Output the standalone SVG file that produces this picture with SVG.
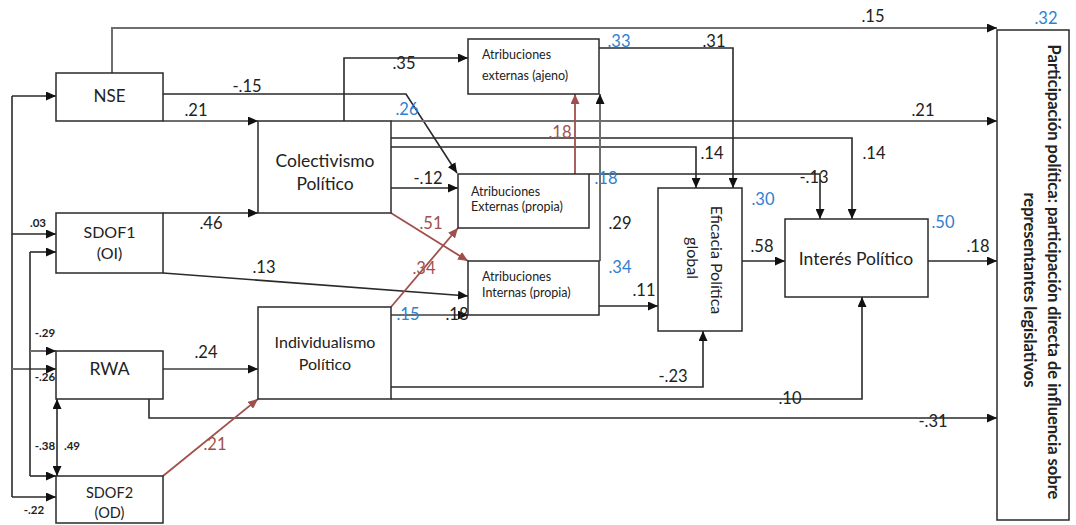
<svg xmlns="http://www.w3.org/2000/svg" width="1076" height="525" viewBox="0 0 1076 525">
<style>
  .box{fill:#fff;stroke:#2a2a2a;stroke-width:1.5}
  .ln{fill:none;stroke:#2a2a2a;stroke-width:1.6}
  .gl{fill:none;stroke:#6e6e6e;stroke-width:2}
  .rd{fill:none;stroke:#a0504c;stroke-width:1.8}
  .nt{font-family:Lato,"Liberation Sans",sans-serif;fill:#222;text-anchor:middle}
  .at{font-family:Lato,"Liberation Sans",sans-serif;fill:#222;font-size:12.5px}
  .cf{font-family:Lato,"Liberation Sans",sans-serif;fill:#222;font-size:16.5px;text-anchor:middle}
  .bl{font-family:Lato,"Liberation Sans",sans-serif;fill:#2f80d0;font-size:16.5px;text-anchor:middle}
  .rl{font-family:Lato,"Liberation Sans",sans-serif;fill:#a0504c;font-size:16.5px;text-anchor:middle}
  .sm{font-family:Lato,"Liberation Sans",sans-serif;fill:#222;font-size:11.5px;font-weight:bold;text-anchor:middle}
</style>
<defs>
  <marker id="ah" markerUnits="userSpaceOnUse" markerWidth="11" markerHeight="9" refX="10" refY="4.5" orient="auto-start-reverse">
    <path d="M0,0 L10,4.5 L0,9 z" fill="#111"/>
  </marker>
  <marker id="ahr" markerUnits="userSpaceOnUse" markerWidth="11" markerHeight="9" refX="10" refY="4.5" orient="auto">
    <path d="M0,0 L10,4.5 L0,9 z" fill="#a0504c"/>
  </marker>
</defs>
<rect width="1076" height="525" fill="#fff"/>

<g id="connectors">
  <!-- left covariance lines -->
  <path class="ln" d="M12,96 V497"/>
  <path class="ln" d="M12,96 H56" marker-end="url(#ah)"/>
  <path class="ln" d="M12,234 H56" marker-end="url(#ah)"/>
  <path class="gl" d="M12,369 H56" marker-end="url(#ah)"/>
  <path class="ln" d="M12,497 H56" marker-end="url(#ah)"/>
  <path class="ln" d="M30,252 V476"/>
  <path class="ln" d="M30,252 H56" marker-end="url(#ah)"/>
  <path class="gl" d="M30,351 H56" marker-end="url(#ah)"/>
  <path class="ln" d="M30,476 H56" marker-end="url(#ah)"/>
  <path class="ln" d="M57,399 V476" marker-start="url(#ah)" marker-end="url(#ah)"/>

  <!-- NSE -->
  <path class="gl" d="M112,73 V28 H997" marker-end="url(#ah)"/>
  <path class="ln" d="M163,94 H406 L457,173" marker-end="url(#ah)"/>
  <path class="gl" d="M163,121 H258" marker-end="url(#ah)"/>
  <!-- SDOF1 -->
  <path class="ln" d="M163,213 H258" marker-end="url(#ah)"/>
  <path class="ln" d="M163,273 L468,296" marker-end="url(#ah)"/>
  <!-- RWA -->
  <path class="gl" d="M163,369 H258" marker-end="url(#ah)"/>
  <path class="ln" d="M149,399 V418 H997" marker-end="url(#ah)"/>
  <!-- SDOF2 -->
  <path class="rd" d="M163,476 L258,399" marker-end="url(#ahr)"/>
  <!-- Colectivismo -->
  <path class="ln" d="M344,121 V58 H468" marker-end="url(#ah)"/>
  <path class="gl" d="M391,121 H997" marker-end="url(#ah)"/>
  <path class="ln" d="M391,138 H852 V219" marker-end="url(#ah)"/>
  <path class="ln" d="M391,147 H696 V188" marker-end="url(#ah)"/>
  <path class="ln" d="M391,188 H458" marker-end="url(#ah)"/>
  <path class="rd" d="M391,213 L468,261" marker-end="url(#ahr)"/>
  <!-- Atribuciones -->
  <path class="ln" d="M589,174 H820 V219" marker-end="url(#ah)"/>
  <path class="ln" d="M599,48 H733 V188" marker-end="url(#ah)"/>
  <path class="rd" d="M575,174 V94" marker-end="url(#ahr)"/>
  <path class="gl" d="M600,261 V94" marker-end="url(#ah)"/>
  <path class="ln" d="M599,306 H658" marker-end="url(#ah)"/>
  <!-- Individualismo -->
  <path class="rd" d="M391,307 L458,228" marker-end="url(#ahr)"/>
  <path class="gl" d="M391,315 H468" marker-end="url(#ah)"/>
  <path class="ln" d="M391,387 H703 V331" marker-end="url(#ah)"/>
  <path class="ln" d="M391,399 H862 V297" marker-end="url(#ah)"/>
  <!-- Eficacia / Interés -->
  <path class="ln" d="M742,261 H785" marker-end="url(#ah)"/>
  <path class="ln" d="M928,261 H997" marker-end="url(#ah)"/>

  <!-- coefficient labels -->
  <text class="cf" x="873" y="22">.15</text>
  <text class="cf" x="247" y="92">-.15</text>
  <text class="cf" x="196" y="116">.21</text>
  <text class="cf" x="211" y="229">.46</text>
  <text class="cf" x="264" y="273">.13</text>
  <text class="cf" x="206" y="358">.24</text>
  <text class="cf" x="933" y="427">-.31</text>
  <text class="rl" x="215" y="450">.21</text>
  <text class="cf" x="404" y="69">.35</text>
  <text class="cf" x="923" y="116">.21</text>
  <text class="cf" x="874" y="159">.14</text>
  <text class="cf" x="712" y="159">.14</text>
  <text class="cf" x="814" y="183">-.13</text>
  <text class="cf" x="714" y="47">.31</text>
  <text class="rl" x="560" y="138">.18</text>
  <text class="cf" x="620" y="229">.29</text>
  <text class="cf" x="644" y="296">.11</text>
  <text class="cf" x="428" y="184">-.12</text>
  <text class="rl" x="431" y="229">.51</text>
  <text class="rl" x="424" y="274">.34</text>
  <text class="cf" x="457" y="320">.18</text>
  <text class="cf" x="673" y="382">-.23</text>
  <text class="cf" x="790" y="404">.10</text>
  <text class="cf" x="762" y="252">.58</text>
  <text class="cf" x="978" y="252">.18</text>
  <!-- R2 labels -->
  <text class="bl" x="407" y="115">.26</text>
  <text class="bl" x="619" y="47">.33</text>
  <text class="bl" x="606" y="184">.18</text>
  <text class="bl" x="620" y="273">.34</text>
  <text class="bl" x="408" y="320">.15</text>
  <text class="bl" x="763" y="205">.30</text>
  <text class="bl" x="943" y="228">.50</text>
  <text class="bl" x="1046" y="24">.32</text>
  <!-- small covariance labels -->
  <text class="sm" x="38" y="227">.03</text>
  <text class="sm" x="45" y="337">-.29</text>
  <text class="sm" x="45" y="381">-.26</text>
  <text class="sm" x="45" y="450">-.38</text>
  <text class="sm" x="72" y="450">.49</text>
  <text class="sm" x="34" y="514">-.22</text>
</g>

<g id="nse">
  <rect class="box" x="56" y="73" width="107" height="48"/>
  <text class="nt" x="109.5" y="102" font-size="17">NSE</text>
</g>
<g id="sdof1">
  <rect class="box" x="56" y="213" width="107" height="60"/>
  <text class="nt" x="109.5" y="238" font-size="16">SDOF1</text>
  <text class="nt" x="109.5" y="259" font-size="16">(OI)</text>
</g>
<g id="rwa">
  <rect class="box" x="56" y="351" width="107" height="48"/>
  <text class="nt" x="109.5" y="375" font-size="17.5">RWA</text>
</g>
<g id="sdof2">
  <rect class="box" x="56" y="476" width="107" height="47"/>
  <text class="nt" x="109.5" y="498" font-size="14.5">SDOF2</text>
  <text class="nt" x="109.5" y="518" font-size="14.5">(OD)</text>
</g>
<g id="colectivismo">
  <rect class="box" x="258" y="121" width="133" height="92"/>
  <text class="nt" x="325" y="167" font-size="17.5">Colectivismo</text>
  <text class="nt" x="325" y="190" font-size="17.5">Político</text>
</g>
<g id="individualismo">
  <rect class="box" x="258" y="307" width="133" height="92"/>
  <text class="nt" x="325" y="348" font-size="16">Individualismo</text>
  <text class="nt" x="325" y="370" font-size="16">Político</text>
</g>
<g id="atrib-ext-ajeno">
  <rect class="box" x="468" y="39" width="131" height="55"/>
  <text class="at" x="482" y="59">Atribuciones</text>
  <text class="at" x="482" y="80">externas (ajeno)</text>
</g>
<g id="atrib-ext-propia">
  <rect class="box" x="458" y="174" width="131" height="54"/>
  <text class="at" x="471" y="196">Atribuciones</text>
  <text class="at" x="471" y="211">Externas (propia)</text>
</g>
<g id="atrib-int-propia">
  <rect class="box" x="468" y="261" width="131" height="54"/>
  <text class="at" x="482" y="281">Atribuciones</text>
  <text class="at" x="482" y="297">Internas (propia)</text>
</g>
<g id="eficacia">
  <rect class="box" x="658" y="188" width="84" height="143"/>
  <text class="nt" font-size="16" transform="translate(711,260) rotate(90)">Eficacia Política</text>
  <text class="nt" font-size="16" transform="translate(687,258) rotate(90)">global</text>
</g>
<g id="interes">
  <rect class="box" x="785" y="219" width="143" height="78"/>
  <text class="nt" x="856" y="265" font-size="17.5">Interés Político</text>
</g>
<g id="participacion">
  <rect class="box" x="997" y="30" width="72" height="490"/>
  <text class="nt" font-size="16.5" font-weight="bold" transform="translate(1048,272) rotate(90)">Participación política: participación directa de influencia sobre</text>
  <text class="nt" font-size="16.5" font-weight="bold" transform="translate(1024,290) rotate(90)">representantes legislativos</text>
</g>
</svg>
